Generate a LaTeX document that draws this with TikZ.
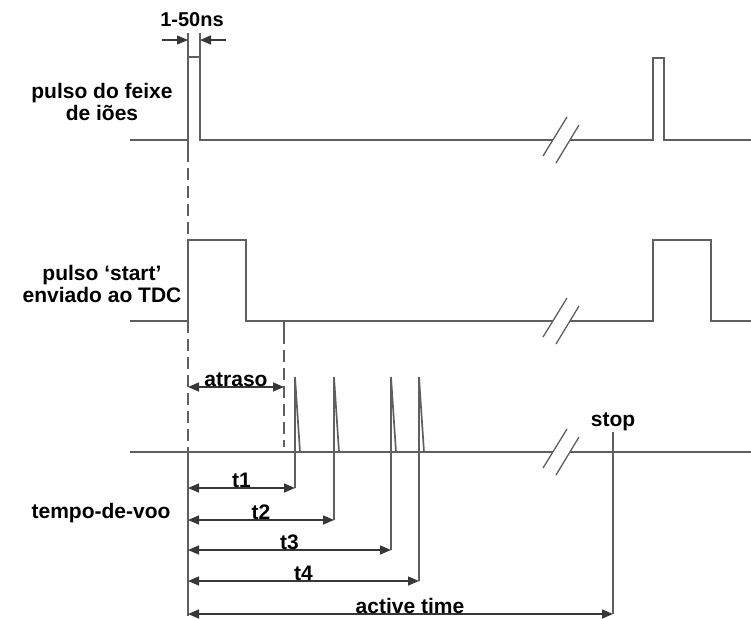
\documentclass[tikz,border=0pt]{standalone}
\usepackage{fontspec}
\setmainfont{Liberation Sans}
\usetikzlibrary{arrows.meta,positioning,calc}
\definecolor{traceGray}{RGB}{95,95,95}
\definecolor{dimGray}{RGB}{55,55,55}

% break marks on a time axis at height #1
\newcommand{\axisbreak}[1]{%
  \draw[brk] (543,#1+16) -- (567,#1-23);
  \draw[brk] (556,#1+23) -- (579,#1-15);}

\begin{document}
\begin{tikzpicture}[x=1pt,y=-1pt,
  trace/.style={draw=traceGray,line width=1.7pt},
  guide/.style={draw=traceGray,line width=1.7pt,dash pattern=on 12pt off 6pt},
  brk/.style={draw=traceGray,line width=1.3pt},
  dim/.style={draw=dimGray,line width=1.5pt,{Triangle[length=11pt,width=9pt]}-{Triangle[length=11pt,width=9pt]}},
  lbl/.style={font=\bfseries\fontsize{21}{22}\selectfont,inner sep=1pt}]
  \useasboundingbox (0,0) rectangle (751,618);

  % ion beam pulse
  \draw[trace] (130,140) -- (188,140) -- (188,57) -- (200,57) -- (200,140) -- (553,140);
  \draw[trace] (570,140) -- (653,140) -- (653,58) -- (664,58) -- (664,140) -- (751,140);
  \draw[trace] (188,33) -- (188,150);
  \draw[trace] (200,33) -- (200,57);
  \axisbreak{140}
  \coordinate (wl) at (188,40);
  \coordinate (wr) at (200,40);
  \draw[dim,-{Triangle[length=11pt,width=9pt]}] (162,40) -- (wl);
  \draw[dim,-{Triangle[length=11pt,width=9pt]}] (226,40) -- (wr);
  \node[lbl,font=\bfseries\fontsize{20}{22}\selectfont] (width) at (192,20) {1-50ns};
  \node[lbl,align=center] (beam) at (102,102) {pulso do feixe\\de iões};

  % start pulse to the TDC
  \draw[guide] (188,150) -- (188,240);
  \draw[trace] (130,321) -- (188,321) -- (188,240) -- (246,240) -- (246,321) -- (553,321);
  \draw[trace] (570,321) -- (653,321) -- (653,240) -- (711,240) -- (711,321) -- (751,321);
  \axisbreak{321}
  \node[lbl,align=center] (start) at (102,284) {pulso ‘start’\\enviado ao TDC};

  % delay
  \draw[guide] (188,321) -- (188,452);
  \draw[trace] (284,321) -- (284,332);
  \draw[guide] (284,332) -- (284,447);
  \coordinate (d0) at (188,387);
  \coordinate (d1) at (284,387);
  \draw[dim] (d0) -- node[lbl,above,inner sep=0pt] (delay) {atraso} (d1);

  % stop signals
  \draw[trace] (130,452) -- (553,452);
  \draw[trace] (570,452) -- (751,452);
  \axisbreak{452}
  \draw[trace] (188,452) -- (188,616);
  \foreach \name/\xs/\ya in {t1/295/488, t2/334/520, t3/391/550, t4/419/581} {
    \coordinate (\name top) at (\xs,377);
    \coordinate (\name end) at (\xs,\ya);
    \coordinate (\name start) at (188,\ya);
    \draw[trace] (\name end) -- (\name top) -- ++(5,75);
    \draw[dim] (\name start) -- node[lbl,above,inner sep=0pt] (\name lbl) {\name} (\name end);
  }
  \node[lbl] (tof) at (101,513) {tempo-de-voo};

  % active time
  \node[lbl] (stop) at (613,422) {stop};
  \coordinate (a0) at (188,614);
  \coordinate (a1) at (613,614);
  \draw[trace] (stop.south) -- (a1);
  \draw[dim] (a0) -- (a1);
  \node[lbl,above,inner sep=0pt] (active) at (410,614) {active time};
\end{tikzpicture}
\end{document}
